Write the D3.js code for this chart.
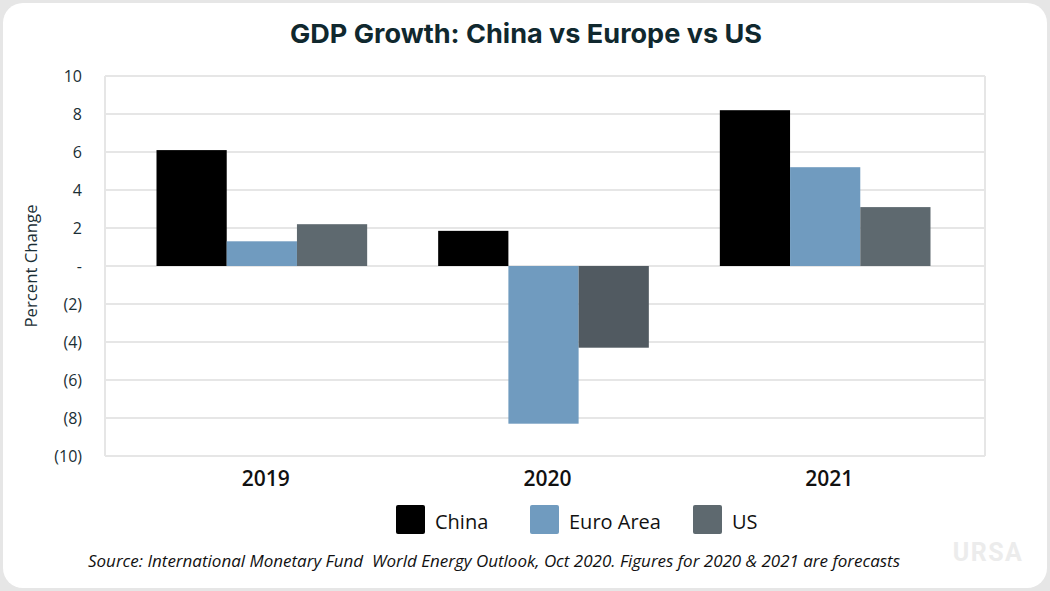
<!DOCTYPE html>
<html><head><meta charset="utf-8">
<script src="https://cdn.jsdelivr.net/npm/d3@7/dist/d3.min.js"></script>
<style>body{margin:0;background:#fff}svg{display:block}</style>
</head><body>
<svg id="c" width="1050" height="591"></svg>
<script>
const years = ["2019","2020","2021"];
const seriesNames = ["China","Euro Area","US"];
const china = [6.1, 1.85, 8.2];
const euro = [1.3, -8.3, 5.2];
const us = [2.2, -4.3, 3.1];
const yTicks = [10,8,6,4,2,0,-2,-4,-6,-8,-10];
const colors = ["#000000","#709bbf","#5e696f"];

const svg = d3.select("#c");
svg.append("rect").attr("width",1050).attr("height",591).attr("fill","#e6e6e6");
svg.append("rect").attr("x",3).attr("y",3).attr("width",1044).attr("height",585).attr("rx",20).attr("fill","#fff");

const y = d3.scaleLinear().domain([-10,10]).range([456,76]);
const x0 = d3.scaleBand().domain(years).range([121,966]);
const x1 = d3.scaleBand().domain(seriesNames).range([35.5, x0.bandwidth()-35.5]);

const gl = 105, gr = 985;
svg.append("g").selectAll("line").data(yTicks).join("line")
  .attr("x1",gl).attr("x2",gr).attr("y1",d=>y(d)).attr("y2",d=>y(d))
  .attr("stroke","#e6e6e6").attr("stroke-width",2);
svg.append("line").attr("x1",gl).attr("x2",gl).attr("y1",y(10)).attr("y2",y(-10)).attr("stroke","#e6e6e6").attr("stroke-width",2);
svg.append("line").attr("x1",gr).attr("x2",gr).attr("y1",y(10)).attr("y2",y(-10)).attr("stroke","#e6e6e6").attr("stroke-width",2);

const data = years.map((yr,i)=>({year:yr, vals:[china[i],euro[i],us[i]]}));
const g = svg.append("g");
data.forEach((d,i)=>{
  d.vals.forEach((v,j)=>{
    let col = colors[j];
    if (j===2 && d.year==="2020") col = "#515a61";
    g.append("rect")
      .attr("x", x0(d.year)+x1(seriesNames[j]))
      .attr("width", x1.bandwidth())
      .attr("y", y(Math.max(0,v)))
      .attr("height", Math.abs(y(v)-y(0)))
      .attr("fill", col);
  });
});

const fmt = d => d===0 ? "-" : (d<0 ? "("+Math.abs(d)+")" : String(d));
const yAxis = d3.axisLeft(y).tickValues(yTicks).tickFormat(fmt).tickSize(0).tickPadding(0);
const ya = svg.append("g").attr("transform","translate(82,0)").call(yAxis);
ya.select(".domain").remove();
ya.selectAll("text").attr("font-family","'Open Sans'").attr("font-size",16).attr("fill","#1a2e35");

const xAxis = d3.axisBottom(x0).tickSize(0).tickPadding(0);
const xa = svg.append("g").attr("transform","translate(4,470)").call(xAxis);
xa.select(".domain").remove();
xa.selectAll("text").attr("font-family","'Open Sans'").attr("font-weight",600).attr("font-size",21).attr("fill","#111").attr("dy","0.75em");

svg.append("text").attr("transform","translate(37,266) rotate(-90)").attr("text-anchor","middle")
  .attr("font-family","'Open Sans'").attr("font-size",16).attr("fill","#1a2e35")
  .attr("textLength",123).attr("lengthAdjust","spacingAndGlyphs").text("Percent Change");

svg.append("text").attr("x",526).attr("y",43).attr("text-anchor","middle")
  .attr("font-family","Inter").attr("font-weight",700).attr("font-size",26).attr("fill","#10282e")
  .attr("textLength",472).attr("lengthAdjust","spacingAndGlyphs").text("GDP Growth: China vs Europe vs US");

const legX = [396, 530, 693];
const leg = svg.append("g");
seriesNames.forEach((s,i)=>{
  leg.append("rect").attr("x",legX[i]).attr("y",505).attr("width",29).attr("height",29).attr("rx",2).attr("fill",colors[i]);
  leg.append("text").attr("x",legX[i]+39).attr("y",529).attr("font-family","'Open Sans'").attr("font-size",20).attr("fill","#111").text(s);
});

svg.append("text").attr("x",88).attr("y",567).attr("font-family","'Open Sans'").attr("font-style","italic")
  .attr("font-size",16).attr("fill","#111").attr("textLength",812).attr("lengthAdjust","spacingAndGlyphs")
  .style("white-space","pre")
  .text("Source: International Monetary Fund  World Energy Outlook, Oct 2020. Figures for 2020 & 2021 are forecasts");

svg.append("text").attr("x",988).attr("y",561).attr("text-anchor","middle").attr("font-family","Roboto")
  .attr("font-weight",700).attr("font-size",25).attr("fill","#ececec").attr("letter-spacing","1.5px").text("URSA");
</script>
</body></html>
